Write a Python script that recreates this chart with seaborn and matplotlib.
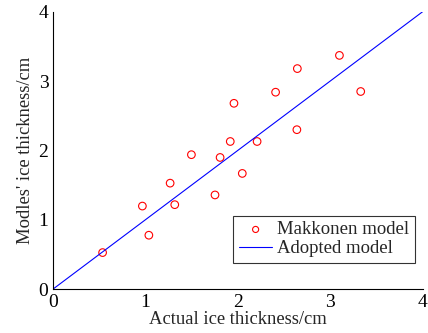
import matplotlib
matplotlib.use("Agg")
import matplotlib.pyplot as plt
import seaborn as sns
import pandas as pd

actual = [0.54, 0.97, 1.04, 1.27, 1.32, 1.50, 1.755, 1.81, 1.92, 1.96, 2.05, 2.21, 2.41, 2.64, 2.645, 3.10, 3.33]
makkonen = [0.53, 1.20, 0.78, 1.53, 1.22, 1.94, 1.36, 1.90, 2.13, 2.68, 1.67, 2.13, 2.84, 2.30, 3.18, 3.37, 2.85]
adopted_x = [0.0, 2.4, 4.0]
adopted_y = [0.0, 2.4, 4.0]

sns.set_style("white")
plt.rcParams['font.family'] = ['Liberation Serif', 'DejaVu Serif']

fig = plt.figure(figsize=(4.28, 3.33), dpi=100)
ax = fig.add_axes([0.123, 0.131, 0.8646, 0.834])

df_pts = pd.DataFrame({"x": actual, "y": makkonen})
df_line = pd.DataFrame({"x": adopted_x, "y": adopted_y})

sns.scatterplot(data=df_pts, x="x", y="y", ax=ax, marker="o", s=30,
                facecolors="none", edgecolor="red", linewidth=0.8,
                label="Makkonen model")
sns.lineplot(data=df_line, x="x", y="y", ax=ax, color="blue", linewidth=0.8,
             label="Adopted model")

ax.set_xlim(0, 4)
ax.set_ylim(0, 4)
ax.set_xticks([0, 1, 2, 3, 4])
ax.set_yticks([0, 1, 2, 3, 4])
ax.tick_params(direction="in", length=4, width=0.8, labelsize=14, colors="black", pad=3)
for s in ["top", "right"]:
    ax.spines[s].set_visible(False)
for s in ["left", "bottom"]:
    ax.spines[s].set_color("black")
    ax.spines[s].set_linewidth(0.8)

ax.set_xlabel("Actual ice thickness/cm", fontsize=13.4, labelpad=0)
ax.set_ylabel("Modles' ice thickness/cm", fontsize=13.4, labelpad=3)

leg = ax.legend(loc="lower right", bbox_to_anchor=(0.979, 0.095), borderaxespad=0,
                fontsize=13.5, frameon=True, fancybox=False, edgecolor="black",
                handlelength=1.8, borderpad=0.3, labelspacing=0.1, handletextpad=0.25,
                markerscale=0.8)
leg.get_frame().set_linewidth(0.8)

fig.savefig("out.png", dpi=100)
